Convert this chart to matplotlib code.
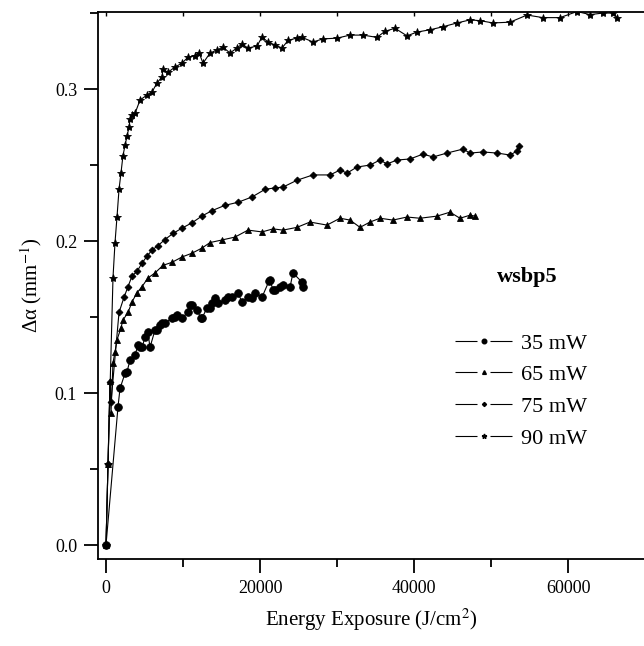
import matplotlib
matplotlib.use('Agg')
import matplotlib.pyplot as plt
from matplotlib.lines import Line2D
from matplotlib.ticker import MultipleLocator

plt.rcParams['font.family'] = ['Liberation Serif', 'DejaVu Serif']
plt.rcParams['mathtext.fontset'] = 'stix'

# valores (x en J/cm2, y en mm^-1)
x35 = [0, 1560, 1820, 2470, 2730, 3120, 3770, 4160, 4420, 4680, 5060, 5450, 5710, 6360,
       6620, 7010, 7270, 7660, 8570, 8960, 9220, 9870, 10650, 10910, 11170, 11820, 12340,
       12470, 13120, 13510, 13770, 14150, 14550, 15450, 15840, 16360, 17140, 17660, 18440,
       18960, 19350, 20260, 21170, 21300, 21690, 21950, 22600, 22990, 23900, 24280, 25450,
       25580]
y35 = [0.0, 0.091, 0.103, 0.113, 0.114, 0.1217, 0.125, 0.1316, 0.130, 0.130, 0.1368, 0.140,
       0.130, 0.1414, 0.1414, 0.1447, 0.146, 0.146, 0.1493, 0.150, 0.1513, 0.1493, 0.1533,
       0.158, 0.158, 0.1546, 0.1493, 0.1493, 0.156, 0.156, 0.159, 0.1625, 0.159, 0.161,
       0.163, 0.163, 0.1658, 0.160, 0.163, 0.1625, 0.1658, 0.163, 0.1737, 0.1743, 0.1678,
       0.1678, 0.1697, 0.171, 0.1697, 0.179, 0.173, 0.1697]

x65 = [0, 260, 520, 650, 910, 1170, 1430, 1950, 2200, 2860, 3380, 4030, 4680, 5450, 6360,
       7400, 8570, 9870, 11170, 12470, 13510, 15060, 16750, 18440, 20260, 21690, 22990,
       24800, 26490, 28700, 30390, 31690, 32990, 34290, 35580, 37270, 39090, 40780, 42990,
       44680, 45970, 47270, 47920]
y65 = [0.0, 0.053, 0.108, 0.087, 0.120, 0.127, 0.135, 0.143, 0.148, 0.153, 0.160, 0.166,
       0.170, 0.1757, 0.179, 0.184, 0.186, 0.1895, 0.192, 0.1954, 0.199, 0.2007, 0.2026,
       0.2072, 0.206, 0.208, 0.2072, 0.209, 0.2125, 0.2105, 0.215, 0.2138, 0.209, 0.2125,
       0.215, 0.2138, 0.2158, 0.215, 0.2164, 0.219, 0.215, 0.217, 0.2164]

x75 = [0, 260, 520, 650, 1690, 2340, 2860, 3380, 4030, 4680, 5320, 5970, 6750, 7660, 8700,
       9870, 11170, 12470, 13770, 15450, 17140, 18960, 20650, 21950, 22990, 24800, 26880,
       29090, 30390, 31300, 32600, 34290, 35580, 36490, 37790, 39480, 41170, 42470, 44280,
       46360, 47270, 48960, 50780, 52470, 53380, 53640]
y75 = [0.0, 0.053, 0.107, 0.094, 0.153, 0.163, 0.170, 0.177, 0.180, 0.1855, 0.190, 0.194,
       0.197, 0.201, 0.205, 0.2085, 0.212, 0.2165, 0.220, 0.2235, 0.2255, 0.229, 0.234,
       0.235, 0.2355, 0.240, 0.2435, 0.2435, 0.2467, 0.2447, 0.2487, 0.250, 0.2533, 0.2507,
       0.2533, 0.254, 0.2572, 0.2553, 0.2579, 0.2605, 0.2579, 0.2586, 0.2579, 0.2566,
       0.2592, 0.2625]

x90 = [0, 260, 909, 1170, 1430, 1690, 1950, 2200, 2470, 2730, 2990, 3120, 3380, 3770, 4420,
       5320, 5970, 6620, 7270, 7400, 8050, 8960, 9870, 10650, 11560, 12080, 12600, 13510,
       14420, 15190, 16100, 17010, 17660, 18440, 19610, 20260, 21040, 21950, 22860, 23640,
       24800, 25450, 26880, 28180, 30000, 31690, 33380, 35190, 36230, 37530, 39090, 40390,
       42080, 43770, 45580, 47270, 48570, 50260, 52470, 54680, 56750, 58960, 61170, 62860,
       64550, 65840, 66360]
y90 = [0.0, 0.053, 0.176, 0.199, 0.216, 0.234, 0.245, 0.256, 0.263, 0.269, 0.275, 0.280,
       0.283, 0.284, 0.2928, 0.296, 0.298, 0.304, 0.308, 0.313, 0.311, 0.3145, 0.317, 0.321,
       0.322, 0.324, 0.317, 0.3237, 0.3257, 0.3276, 0.3237, 0.327, 0.3296, 0.327, 0.3283,
       0.3342, 0.331, 0.329, 0.327, 0.332, 0.3336, 0.334, 0.331, 0.333, 0.3335, 0.3355,
       0.3355, 0.334, 0.338, 0.340, 0.335, 0.3375, 0.339, 0.341, 0.3435, 0.3455, 0.345,
       0.3435, 0.344, 0.3487, 0.347, 0.347, 0.351, 0.349, 0.350, 0.350, 0.347]

series = [
    (x35, y35, 'o', 5.5, '35 mW'),
    (x65, y65, '^', 4.5, '65 mW'),
    (x75, y75, 'D', 3.5, '75 mW'),
    (x90, y90, '*', 6, '90 mW'),
]

fig = plt.figure(figsize=(6.44, 6.46), dpi=100)
ax = fig.add_axes([98 / 644, 87 / 646, 546 / 644, 547 / 646])

handles = []
for xs, ys, mk, ms, lab in series:
    ax.plot(xs, ys, color='black', lw=0.8, ls='-', marker=mk, ms=ms,
            markeredgewidth=0.6)
    # linea - marcador - linea, con hueco alrededor del marcador
    handles.append(Line2D([], [], color='black', lw=0.8, ls=(0, (19.8, 11.7)),
                          marker=mk, ms=ms * 0.6))

ax.set_xlim(-1039, 69870)
ax.set_ylim(-0.0092, 0.3507)

ax.spines['right'].set_visible(False)
for s in ['left', 'bottom', 'top']:
    ax.spines[s].set_linewidth(1.3)

ax.set_xticks([0, 20000, 40000, 60000])
ax.set_xticklabels(['0', '20000', '40000', '60000'])
ax.xaxis.set_minor_locator(MultipleLocator(10000))
ax.set_yticks([0.0, 0.1, 0.2, 0.3])
ax.set_yticklabels(['0.0', '0.1', '0.2', '0.3'])
ax.yaxis.set_minor_locator(MultipleLocator(0.05))
ax.tick_params(axis='both', which='major', direction='out', length=10, width=1.3,
               labelsize=13, pad=5)
ax.tick_params(axis='both', which='minor', direction='out', length=6, width=1.3)
ax.tick_params(axis='y', which='both', right=False)

# marcas pequenas hacia dentro en el eje de arriba
top = ax.secondary_xaxis('top')
top.set_xticks([0, 10000, 20000, 30000, 40000, 50000, 60000])
top.tick_params(direction='in', length=3, width=1.0, labeltop=False)
top.spines['top'].set_visible(False)

ax.set_xlabel('Energy Exposure (J/cm$^{2}$)', fontsize=15, labelpad=7)
ax.set_ylabel('Δα (mm$^{-1}$)', fontsize=15, labelpad=8)

fig.text(527 / 644, 1 - 277 / 646, 'wsbp5', fontsize=16, fontweight='bold',
         ha='center', va='center')

ax.legend(handles, [s[4] for s in series], loc='upper left',
          bbox_to_anchor=(455 / 644, 1 - 333 / 646), bbox_transform=fig.transFigure,
          frameon=False, fontsize=16, labelspacing=0.5, handlelength=2.6,
          handletextpad=0.35, borderpad=0, borderaxespad=0)

fig.savefig('out.png', dpi=100)
